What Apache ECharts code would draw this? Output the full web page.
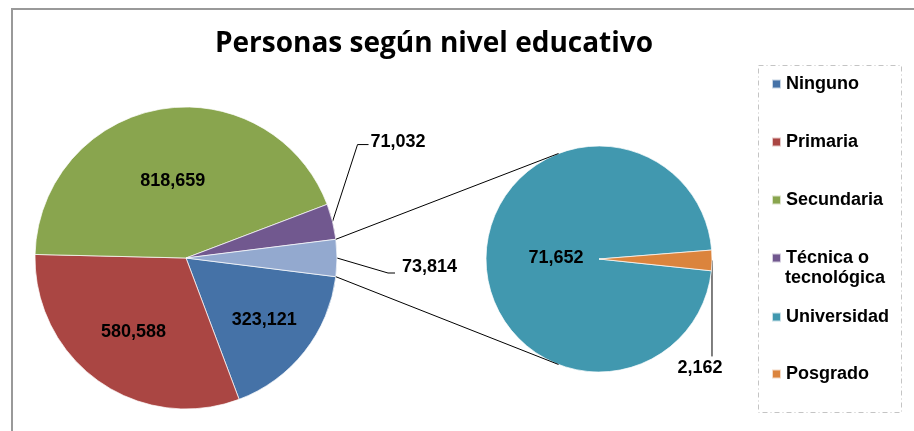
<!DOCTYPE html>
<html>
<head>
<meta charset="utf-8">
<script src="https://cdn.jsdelivr.net/npm/echarts@6/dist/echarts.min.js"></script>
<style>
  html, body { margin: 0; padding: 0; background: #fff; }
  #chart { width: 914px; height: 431px; }
</style>
</head>
<body>
<div id="chart"></div>
<script>
// Data (pie of pie: last slice of the main pie is split in the second pie)
const mainNames = ['Ninguno', 'Primaria', 'Secundaria', 'Técnica o tecnológica', 'Otros'];
const mainValues = [323121, 580588, 818659, 71032, 73814];
const subNames = ['Universidad', 'Posgrado'];
const subValues = [71652, 2162];

const mainColors = ['#4572A7', '#AA4643', '#89A54E', '#71588F', '#93A9CF'];
const subColors = ['#4198AF', '#DB843D'];

// Layout
const C1 = [186, 258], R1 = 151;
const C2 = [599, 259], R2 = 113;
const FONT = "'Liberation Sans', Arial, sans-serif";

const total = arr => arr.reduce((a, b) => a + b, 0);
const otherSpan = mainValues[4] / total(mainValues) * 360;
const start1 = -otherSpan / 2;   // "Otros" centred on the right side
const start2 = -6;
const connectAngle = 111;

function midAngles(values, start) {
  const t = total(values);
  let a = start;
  return values.map(v => {
    const span = v / t * 360;
    const mid = a - span / 2;
    a -= span;
    return mid;
  });
}
const mid1 = midAngles(mainValues, start1);
const mid2 = midAngles(subValues, start2);

const polar = (c, r, deg) => {
  const m = deg * Math.PI / 180;
  return [c[0] + r * Math.cos(m), c[1] - r * Math.sin(m)];
};

// inside label distance (fraction of radius) / outside leader-line shape
const innerRatio1 = { 0: 0.66, 1: 0.6, 2: 0.52 };
const outer1 = {
  3: { elbow: [25, -77], tail: 11, dx: 2, dy: -3, align: 'left' },
  4: { elbow: [51, 15], tail: 7, dx: 7, dy: -6, align: 'left' }
};
const innerRatio2 = { 0: 0.38 };
const outer2 = {
  1: { elbow: [0, 96], tail: 0, dx: -12, dy: 12, align: 'center' }
};

function makeLayout(center, radius, mids, inner, outer) {
  return function (p) {
    const i = p.dataIndex;
    if (inner[i] != null) {
      const pt = polar(center, radius * inner[i], mids[i]);
      return { x: pt[0], y: pt[1], align: 'center', verticalAlign: 'middle' };
    }
    const o = outer[i];
    if (!o) return {};
    const edge = polar(center, radius, mids[i]);
    const elbow = [edge[0] + o.elbow[0], edge[1] + o.elbow[1]];
    const end = [elbow[0] + o.tail, elbow[1]];
    return {
      x: end[0] + o.dx,
      y: end[1] + o.dy,
      align: o.align,
      verticalAlign: 'middle',
      labelLinePoints: [edge, elbow, end]
    };
  };
}

const fmt = v => v.toLocaleString('en-US');
const labelStyle = { color: '#000', fontFamily: FONT, fontWeight: 'bold', fontSize: 18 };

function buildData(names, values, colors, outer) {
  return names.map((n, i) => {
    const d = { name: n, value: values[i], itemStyle: { color: colors[i] } };
    if (outer[i]) {
      d.label = { position: 'outside' };
      d.labelLine = { show: true };
    }
    return d;
  });
}

// connector lines between the "Otros" slice and the second pie
const connectors = [1, -1].map(s => {
  const a = polar(C1, R1, s * otherSpan / 2);
  const b = polar(C2, R2, s * connectAngle);
  return {
    type: 'line',
    shape: { x1: a[0], y1: a[1], x2: b[0], y2: b[1] },
    style: { stroke: '#000', lineWidth: 1 },
    z: 10
  };
});

const chart = echarts.init(document.getElementById('chart'), null, { renderer: 'canvas' });

const legendCommon = {
  orient: 'vertical',
  left: 771,
  padding: 0,
  icon: 'rect',
  itemWidth: 9,
  itemHeight: 9,
  selectedMode: false,
  textStyle: { color: '#000', fontFamily: FONT, fontWeight: 'bold', fontSize: 18, lineHeight: 22 },
  formatter: name => name === 'Técnica o tecnológica' ? 'Técnica o' : name
};

chart.setOption({
  animation: false,
  title: {
    text: 'Personas según nivel educativo',
    left: 429,
    textAlign: 'center',
    top: 25,
    textStyle: { fontFamily: "'Open Sans', sans-serif", fontWeight: 'bold', fontSize: 28, color: '#000' }
  },
  legend: [
    Object.assign({}, legendCommon, { top: 73, itemGap: 36, data: mainNames.slice(0, 4) }),
    Object.assign({}, legendCommon, { top: 306, itemGap: 35, data: subNames })
  ],
  graphic: [
    {
      type: 'rect',
      shape: { x: 12, y: 9, width: 920, height: 440 },
      style: { fill: 'none', stroke: '#999', lineWidth: 2 },
      silent: true
    },
    {
      type: 'rect',
      shape: { x: 758.5, y: 65.5, width: 143, height: 347 },
      style: { fill: 'none', stroke: '#c4c4c4', lineWidth: 1, lineDash: [5, 3, 1, 3] },
      silent: true
    },
    {
      type: 'text',
      left: 785,
      top: 269,
      style: { text: 'tecnológica', fill: '#000', font: "bold 18px " + FONT }
    }
  ].concat(connectors),
  series: [
    {
      type: 'pie',
      center: C1,
      radius: R1,
      startAngle: start1,
      clockwise: true,
      avoidLabelOverlap: false,
      emphasis: { disabled: true },
      itemStyle: { borderColor: 'rgba(255,255,255,0.7)', borderWidth: 1 },
      label: Object.assign({ show: true, position: 'inside', formatter: p => fmt(p.value) }, labelStyle),
      labelLine: { show: false, lineStyle: { color: '#000', width: 1 } },
      labelLayout: makeLayout(C1, R1, mid1, innerRatio1, outer1),
      data: buildData(mainNames, mainValues, mainColors, outer1)
    },
    {
      type: 'pie',
      center: C2,
      radius: R2,
      startAngle: start2,
      clockwise: true,
      avoidLabelOverlap: false,
      emphasis: { disabled: true },
      itemStyle: { borderColor: 'rgba(255,255,255,0.7)', borderWidth: 1 },
      label: Object.assign({ show: true, position: 'inside', formatter: p => fmt(p.value) }, labelStyle),
      labelLine: { show: false, lineStyle: { color: '#000', width: 1 } },
      labelLayout: makeLayout(C2, R2, mid2, innerRatio2, outer2),
      data: buildData(subNames, subValues, subColors, outer2)
    }
  ]
});
</script>
</body>
</html>
